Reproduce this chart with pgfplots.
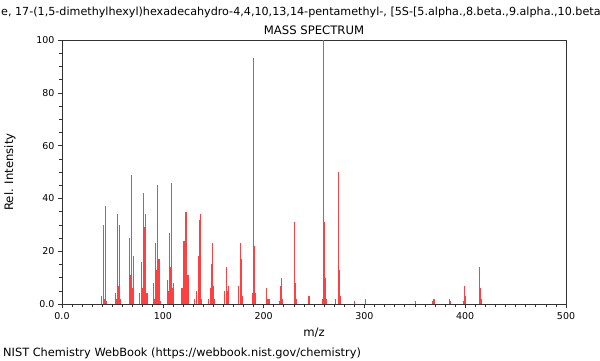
\documentclass[border=0pt]{standalone}
\usepackage{fontspec}
\setmainfont{DejaVu Sans}
\usepackage{pgfplots}
\pgfplotsset{compat=1.18}
\definecolor{specred}{RGB}{255,64,64}
\definecolor{axgray}{RGB}{50,50,50}
\begin{document}
\begin{tikzpicture}[x=1bp,y=1bp]
\useasboundingbox (-62,-56) rectangle (538,304);
\begin{scope}
\clip (-62,-56) rectangle (538,304);
\node[anchor=west,inner sep=0pt,font=\fontsize{11.2}{13}\selectfont] at (-61,292) {e, 17-(1,5-dimethylhexyl)hexadecahydro-4,4,10,13,14-pentamethyl-, [5S-[5.alpha.,8.beta.,9.alpha.,10.beta.,13.alpha.,14.beta.,17.alpha.(R*)]]-};
\end{scope}
\begin{axis}[
  at={(0,0)}, anchor=south west,
  scale only axis, width=504bp, height=264bp,
  xmin=0, xmax=500, ymin=0, ymax=100,
  xtick={0,100,200,300,400,500},
  xticklabels={0.0,100,200,300,400,500},
  ytick={0,20,40,60,80,100},
  yticklabels={0.0,20,40,60,80,100},
  minor x tick num=9, minor y tick num=3,
  xtick pos=left, ytick pos=left,
  tick align=outside,
  major tick length=4bp, minor tick length=2.5bp,
  tick style={axgray, line width=0.6bp},
  axis line style={axgray, line width=0.8bp},
  ticklabel style={font=\fontsize{9.5}{10}\selectfont},
  xticklabel style={yshift=-1bp},
  clip=false,
]
\addplot[ycomb, specred, line width=1.1bp, no marks] coordinates {
(39,3) (41,30) (42,2) (43,37) (44,1)
(53,4) (54,2) (55,34) (56,7) (57,30) (58,2)
(67,25) (68,11) (69,49) (70,6) (71,18)
(77,4) (79,16) (80,6) (81,42) (82,29) (83,34) (84,4) (85,4)
(91,8) (92,2) (93,23) (94,13) (95,45) (96,17) (97,17) (98,1)
(105,9) (106,5) (107,27) (108,14) (109,46) (110,6) (111,8)
(119,6) (120,2) (121,24) (122,10) (123,35) (124,11) (125,11)
(131,2) (133,5) (135,18) (136,32) (137,34) (138,2)
(145,2) (147,6) (148,15) (149,23) (150,7) (151,2)
(161,5) (163,14) (164,5) (165,7)
(175,7) (177,23) (178,17) (179,3)
(189,4) (190,93) (191,22) (192,4)
(203,6) (204,2) (205,2) (206,2)
(216,1) (217,7) (218,10) (219,2)
(231,31) (232,8) (233,2)
(245,3)
(258,2) (259,100) (260,31) (261,10) (262,2)
(271,2) (274,50) (275,13) (276,3)
(290,1) (301,2)
(351,1) (368,1) (369,2) (384,2) (385,1)
(398,1) (399,7) (400,3)
(414,14) (415,6) (416,2)
};
\end{axis}
\node[font=\fontsize{11.7}{13}\selectfont] at (252,274) {MASS SPECTRUM};
\node[font=\fontsize{11.7}{13}\selectfont, rotate=90] at (-52,132) {Rel. Intensity};
\node[font=\fontsize{11.7}{13}\selectfont] at (252,-29) {m/z};
\node[anchor=west,inner sep=0pt,font=\fontsize{11.4}{13}\selectfont] at (-59,-49) {NIST Chemistry WebBook (https://webbook.nist.gov/chemistry)};
\end{tikzpicture}
\end{document}
